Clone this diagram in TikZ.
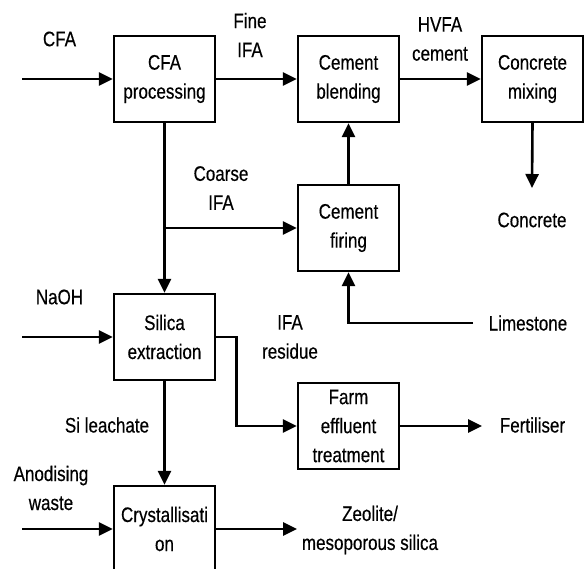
\documentclass[tikz,border=0pt]{standalone}
\usepackage{fontspec}
\setmainfont[FakeStretch=0.81,UprightFeatures={FakeBold=0.4}]{Liberation Sans}
\usetikzlibrary{arrows.meta}
\begin{document}
\begin{tikzpicture}[x=1pt,y=-1pt,
  every node/.style={font=\fontsize{21}{29}\selectfont, align=center, inner sep=0pt},
  procbox/.style={draw, line width=2.4pt, minimum width=101pt, minimum height=86pt},
  arr/.style={line width=2.6pt, -{Triangle[length=14pt,width=13pt]}}]
\useasboundingbox (0,0) rectangle (584,569);
\clip (0,0) rectangle (584,569);
% process boxes
\node[procbox] (cfa) at (164.5,79) {CFA\\processing};
\node[procbox] (blend) at (348.5,79) {Cement\\blending};
\node[procbox] (mix) at (532.5,79) {Concrete\\mixing};
\node[procbox] (fire) at (348.5,228) {Cement\\firing};
\node[procbox] (silica) at (164.5,337) {Silica\\extraction};
\node[procbox] (farm) at (348.5,426) {Farm\\effluent\\treatment};
\node[procbox] (cryst) at (164.5,529) {Crystallisati\\on};
% labels
\node (lcfa) at (59.5,39) {CFA};
\node (lfine) at (250,35) {Fine\\IFA};
\node (lhvfa) at (440,39) {HVFA\\cement};
\node (lcoarse) at (221,188) {Coarse\\IFA};
\node (lconcrete) at (532,220) {Concrete};
\node (llime) at (528,323) {Limestone};
\node (lnaoh) at (59.5,297) {NaOH};
\node (lres) at (290,337) {IFA\\residue};
\node (lfert) at (532.5,425) {Fertiliser};
\node (lleach) at (107,425) {Si leachate};
\node (lanod) at (51,488) {Anodising\\waste};
\node (lzeo) at (370,530) {Zeolite/\\mesoporous silica};
% free ends
\coordinate (cfain) at (22,79);
\coordinate (naohin) at (22,337);
\coordinate (anodin) at (22,529);
\coordinate (concout) at (532,188);
\coordinate (limein) at (473,323);
\coordinate (fertout) at (482,426);
\coordinate (zeoout) at (297,529);
\coordinate (branch) at (164.5,228);
% connectors
\draw[arr] (cfain) -- (cfa.west);
\draw[arr] (cfa.east) -- (blend.west);
\draw[arr] (blend.east) -- (mix.west);
\draw[arr] (mix.south) -- (concout);
\draw[arr] (fire.north) -- (blend.south);
\draw[arr] (cfa.south) -- (silica.north);
\draw[arr] (branch) -- (fire.west);
\draw[arr] (limein) -- (limein -| fire.south) -- (fire.south);
\draw[arr] (naohin) -- (silica.west);
\draw[arr] (silica.east) -- ++(20,0) |- (farm.west);
\draw[arr] (farm.east) -- (fertout);
\draw[arr] (silica.south) -- (cryst.north);
\draw[arr] (anodin) -- (cryst.west);
\draw[arr] (cryst.east) -- (zeoout);
\end{tikzpicture}
\end{document}
